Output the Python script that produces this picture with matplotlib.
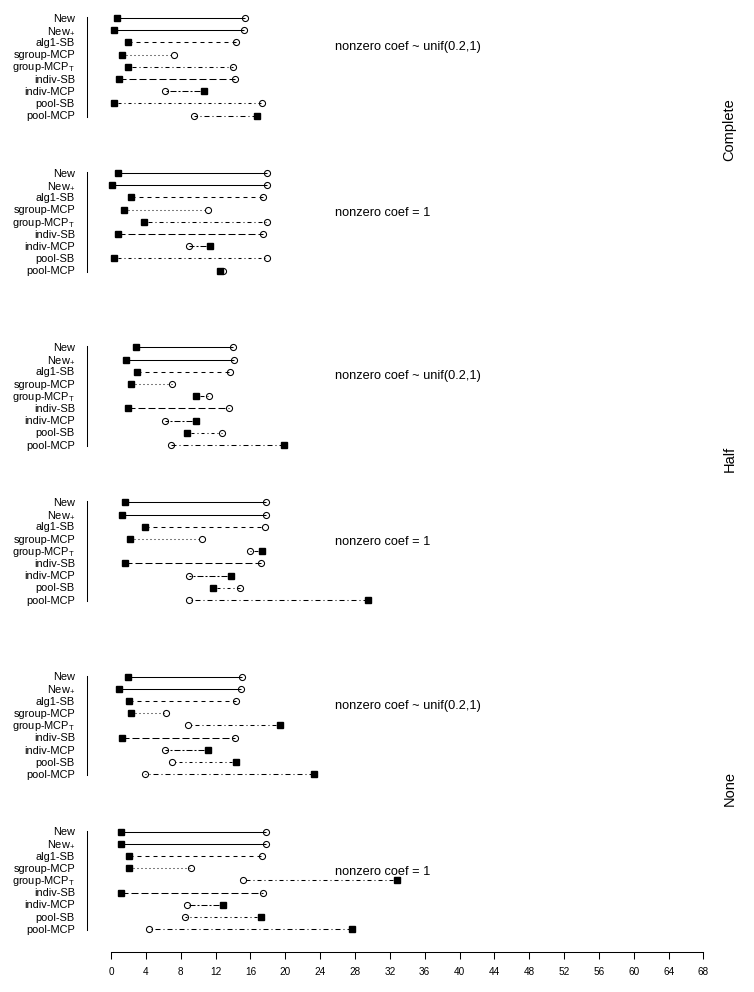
import matplotlib
matplotlib.use("Agg")
import matplotlib.pyplot as plt

plt.rcParams["font.family"] = ["Liberation Sans", "DejaVu Sans"]
plt.rcParams["mathtext.fontset"] = "custom"
plt.rcParams["mathtext.rm"] = "Liberation Sans"
plt.rcParams["mathtext.it"] = "Liberation Sans:italic"
plt.rcParams["mathtext.bf"] = "Liberation Sans:bold"
plt.rcParams["lines.scale_dashes"] = False

methods = ["New", "New$_{+}$", "alg1-SB", "sgroup-MCP", "group-MCP$_{\\mathrm{T}}$",
           "indiv-SB", "indiv-MCP", "pool-SB", "pool-MCP"]
missing = ["Complete", "Half", "None"]
coef_text = ["nonzero coef ~ unif(0.2,1)", "nonzero coef = 1"]

# filled squares / open circles, one pair of lists per panel
sq_complete_unif = [0.7, 0.3, 1.9, 1.3, 1.9, 0.9, 10.7, 0.3, 16.8]
circ_complete_unif = [15.4, 15.3, 14.4, 7.2, 14.0, 14.2, 6.2, 17.3, 9.5]
sq_complete_one = [0.8, 0.15, 2.3, 1.5, 3.8, 0.8, 11.4, 0.3, 12.5]
circ_complete_one = [17.9, 17.9, 17.5, 11.1, 17.9, 17.5, 8.9, 17.9, 12.8]

sq_half_unif = [2.9, 1.7, 3.0, 2.3, 9.8, 1.9, 9.7, 8.7, 19.9]
circ_half_unif = [14.0, 14.1, 13.7, 7.0, 11.3, 13.5, 6.2, 12.7, 6.9]
sq_half_one = [1.6, 1.3, 3.9, 2.2, 17.3, 1.6, 13.8, 11.7, 29.5]
circ_half_one = [17.8, 17.8, 17.7, 10.5, 16.0, 17.2, 8.9, 14.8, 8.9]

sq_none_unif = [1.9, 0.9, 2.1, 2.3, 19.4, 1.3, 11.1, 14.3, 23.3]
circ_none_unif = [15.0, 14.9, 14.3, 6.3, 8.8, 14.2, 6.2, 7.0, 3.9]
sq_none_one = [1.1, 1.1, 2.1, 2.1, 32.8, 1.2, 12.9, 17.2, 27.7]
circ_none_one = [17.8, 17.8, 17.3, 9.2, 15.1, 17.4, 8.7, 8.5, 4.4]

panels = [(sq_complete_unif, circ_complete_unif), (sq_complete_one, circ_complete_one),
          (sq_half_unif, circ_half_unif), (sq_half_one, circ_half_one),
          (sq_none_unif, circ_none_unif), (sq_none_one, circ_none_one)]

px = 0.72
styles = ["-", "-",
          (0, (4 * px, 4 * px)),
          (0, (1 * px, 3 * px)),
          (0, (1 * px, 3 * px, 4 * px, 3 * px)),
          (0, (7 * px, 3 * px)),
          (0, (2 * px, 2 * px, 6 * px, 2 * px)),
          (0, (1 * px, 3 * px, 3 * px, 3 * px)),
          (0, (5 * px, 3 * px, 1 * px, 3 * px))]

fig = plt.figure(figsize=(7.54, 9.92), dpi=100)
ax = fig.add_axes([102.3 / 754, 40 / 992, 609.9 / 754, 952 / 992])
ax.set_xlim(-1, 69)
ax.set_ylim(952, 0)

row_gap = 12.2
for g in range(3):
    for k in range(2):
        top = 18 + g * 329.3 + k * 155
        sq, circ = panels[2 * g + k]
        for i, m in enumerate(methods):
            y = top + i * row_gap
            ax.plot([sq[i], circ[i]], [y, y], color="black", lw=0.75,
                    linestyle=styles[i], dash_capstyle="butt", solid_capstyle="butt")
            ax.plot(circ[i], y, marker="o", ms=4.4, mfc="none", mec="black", mew=0.75)
            ax.plot(sq[i], y, marker="s", ms=4.0, color="black")
            ax.text(-4.13, y + 3.7, m, ha="right", va="baseline", fontsize=7.9)
        ax.plot([-2.72, -2.72], [top - 1, top + 8 * row_gap + 1], color="black",
                lw=0.75, clip_on=False)
        ax.text(25.7, top + (29 if k == 0 else 40), coef_text[k], ha="left",
                va="center", fontsize=9.2)
    ax.text(71.0, 18 + g * 329.3 + 112, missing[g], rotation=90, ha="center",
            va="center", fontsize=10.5)

for s in ["left", "top", "right"]:
    ax.spines[s].set_visible(False)
ax.spines["bottom"].set_bounds(0, 68)
ax.spines["bottom"].set_linewidth(0.75)
ax.set_xticks(range(0, 69, 4))
ax.set_yticks([])
ax.tick_params(axis="x", length=5, width=0.75, pad=6, labelsize=7.2)

plt.savefig("out.png", dpi=100)
plt.close()
